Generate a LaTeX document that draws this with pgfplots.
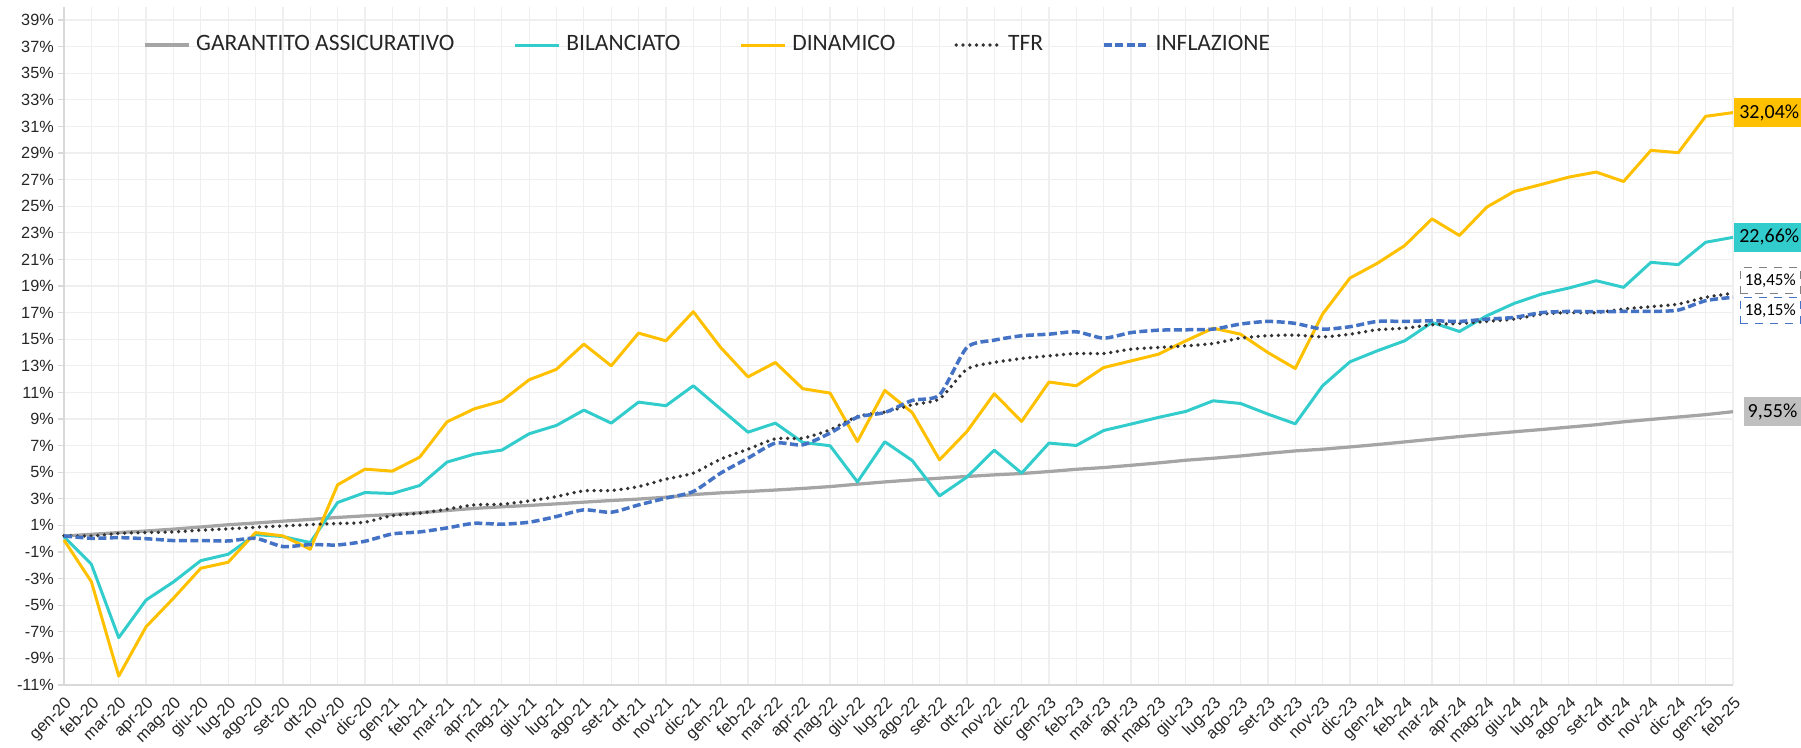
\documentclass[border=0pt]{standalone}
\usepackage{fontspec}
\setmainfont{Liberation Sans}
\newfontfamily\carlito{Carlito}
\usepackage{pgfplots}
\usepackage{pgfplotstable}
\pgfplotsset{compat=1.18}
\definecolor{cgar}{HTML}{A5A5A5}
\definecolor{cbil}{HTML}{33CCCC}
\definecolor{cdin}{HTML}{FFC000}
\definecolor{ctfr}{HTML}{333333}
\definecolor{cinf}{HTML}{4472C4}
\definecolor{cgrid}{HTML}{EFEFEF}
\definecolor{caxis}{HTML}{D9D9D9}
\definecolor{cbox}{HTML}{BFBFBF}
\definecolor{ctxt}{HTML}{262626}

\pgfplotstableread{
x gar bil din tfr inf
0 0.20 0.15 -0.10 0.23 0.21
1 0.33 -1.92 -3.23 0.20 0.03
2 0.46 -7.44 -10.33 0.40 0.08
3 0.58 -4.61 -6.62 0.46 0.00
4 0.72 -3.25 -4.48 0.51 -0.14
5 0.88 -1.65 -2.22 0.64 -0.14
6 1.05 -1.17 -1.77 0.74 -0.17
7 1.18 0.31 0.46 0.86 0.03
8 1.32 0.16 0.21 0.96 -0.59
9 1.45 -0.29 -0.79 1.06 -0.44
10 1.60 2.72 4.05 1.14 -0.47
11 1.72 3.47 5.23 1.24 -0.19
12 1.82 3.40 5.08 1.74 0.36
13 1.95 4.00 6.13 1.92 0.51
14 2.12 5.76 8.79 2.22 0.81
15 2.28 6.36 9.77 2.54 1.16
16 2.40 6.66 10.35 2.59 1.09
17 2.50 7.89 11.95 2.84 1.24
18 2.62 8.52 12.74 3.17 1.67
19 2.75 9.67 14.63 3.60 2.17
20 2.87 8.69 13.00 3.62 1.99
21 2.98 10.27 15.46 3.92 2.54
22 3.12 10.00 14.88 4.48 3.05
23 3.32 11.50 17.07 4.93 3.55
24 3.45 9.75 14.38 5.98 4.93
25 3.55 8.01 12.17 6.73 6.06
26 3.66 8.69 13.25 7.51 7.19
27 3.78 7.24 11.28 7.56 7.06
28 3.92 6.99 10.95 8.19 7.94
29 4.10 4.27 7.31 9.19 9.14
30 4.27 7.29 11.15 9.52 9.49
31 4.42 5.88 9.49 10.07 10.40
32 4.55 3.22 5.93 10.52 10.82
33 4.68 4.63 8.06 12.75 14.38
34 4.80 6.66 10.90 13.25 14.93
35 4.90 4.93 8.82 13.55 15.26
36 5.05 7.19 11.78 13.75 15.38
37 5.22 7.01 11.50 13.93 15.56
38 5.35 8.14 12.87 13.93 15.08
39 5.52 8.62 13.37 14.25 15.50
40 5.70 9.12 13.87 14.38 15.68
41 5.90 9.57 14.88 14.50 15.71
42 6.05 10.37 15.83 14.68 15.76
43 6.22 10.17 15.38 15.08 16.14
44 6.42 9.37 14.00 15.26 16.34
45 6.60 8.64 12.80 15.31 16.19
46 6.73 11.50 16.89 15.18 15.76
47 6.90 13.30 19.60 15.38 15.94
48 7.08 14.13 20.71 15.71 16.34
49 7.28 14.88 22.04 15.83 16.34
50 7.48 16.26 24.05 16.09 16.39
51 7.68 15.58 22.80 16.19 16.34
52 7.86 16.76 24.93 16.34 16.51
53 8.04 17.69 26.11 16.51 16.64
54 8.21 18.39 26.64 16.89 17.00
55 8.39 18.85 27.19 17.00 17.09
56 8.57 19.40 27.57 17.00 17.07
57 8.79 18.90 26.86 17.27 17.09
58 8.97 20.78 29.20 17.45 17.09
59 9.15 20.61 29.03 17.64 17.19
60 9.33 22.29 31.76 18.15 17.90
61 9.55 22.66 32.04 18.45 18.15
}\datatable

\begin{document}
\begin{tikzpicture}
\begin{axis}[
  scale only axis,
  width=667.6pt, height=271.3pt,
  xmin=0, xmax=61, ymin=-11, ymax=40,
  clip=false,
  axis x line*=bottom, axis y line*=left,
  axis line style={draw=caxis, line width=0.5pt},
  xtick={0,...,61},
  xticklabels={gen-20,feb-20,mar-20,apr-20,mag-20,giu-20,lug-20,ago-20,set-20,ott-20,nov-20,dic-20,
    gen-21,feb-21,mar-21,apr-21,mag-21,giu-21,lug-21,ago-21,set-21,ott-21,nov-21,dic-21,
    gen-22,feb-22,mar-22,apr-22,mag-22,giu-22,lug-22,ago-22,set-22,ott-22,nov-22,dic-22,
    gen-23,feb-23,mar-23,apr-23,mag-23,giu-23,lug-23,ago-23,set-23,ott-23,nov-23,dic-23,
    gen-24,feb-24,mar-24,apr-24,mag-24,giu-24,lug-24,ago-24,set-24,ott-24,nov-24,dic-24,
    gen-25,feb-25},
  ytick={-11,-9,...,39},
  yticklabels={-11\%,-9\%,-7\%,-5\%,-3\%,-1\%,1\%,3\%,5\%,7\%,9\%,11\%,13\%,15\%,17\%,19\%,21\%,23\%,25\%,27\%,29\%,31\%,33\%,35\%,37\%,39\%},
  xmajorgrids, ymajorgrids,
  grid style={draw=cgrid, line width=0.5pt},
  tick align=outside,
  major tick length=2.4pt,
  xtick style={draw=none},
  ytick style={draw=caxis, line width=0.5pt},
  yticklabel style={font=\fontsize{6.5}{7.5}\selectfont, text=ctxt, anchor=east, inner sep=1.5pt},
  xticklabel style={font=\fontsize{6.6}{8}\selectfont, text=ctxt, rotate=45, anchor=north east, inner sep=1.2pt},
  legend columns=5,
  legend style={draw=none, fill=none, inner sep=0pt, outer sep=0pt,
    at={(axis cs:2.887,37.12)}, anchor=west,
    font=\carlito\fontsize{9.4}{11}\selectfont, text=ctxt,
    nodes={inner sep=0pt},
    /tikz/every odd column/.append style={column sep=2.4pt},
    /tikz/every even column/.append style={column sep=23.6pt}},
  legend image code/.code={\draw[#1] (0pt,0pt) -- (17.6pt,0pt);},
]
\addplot[cgar, line width=1.3pt] table[x=x, y=gar] {\datatable};
\addlegendentry{GARANTITO ASSICURATIVO}
\addplot[cbil, line width=1.2pt, line join=round] table[x=x, y=bil] {\datatable};
\addlegendentry{BILANCIATO}
\addplot[cdin, line width=1.2pt, line join=round] table[x=x, y=din] {\datatable};
\addlegendentry{DINAMICO}
\addplot[ctfr, line width=1.5pt, line cap=round, dash pattern=on 0pt off 2.7pt, smooth, tension=0.4] table[x=x, y=tfr] {\datatable};
\addlegendentry{TFR}
\addplot[cinf, line width=1.4pt, dash pattern=on 3.2pt off 1.4pt, smooth, tension=0.4] table[x=x, y=inf] {\datatable};
\addlegendentry{INFLAZIONE}

\node[fill=cdin, anchor=west, inner sep=0pt, minimum width=27.6pt, minimum height=11.6pt,
  font=\carlito\fontsize{8}{9}\selectfont, text=black] at (axis cs:61,32.04) {\hspace*{1pt}32,04\%};
\node[fill=cbil, anchor=west, inner sep=0pt, minimum width=27.6pt, minimum height=11.6pt,
  font=\carlito\fontsize{8}{9}\selectfont, text=black] at (axis cs:61,22.66) {\hspace*{1pt}22,66\%};
\node[draw=gray, dashed, line width=0.45pt, fill=white, anchor=west, inner sep=0pt, minimum width=24.2pt, minimum height=10.2pt,
  font=\carlito\fontsize{6.8}{8}\selectfont, text=black] at ([xshift=2.6pt]axis cs:61,19.42) {18,45\%};
\node[draw=cinf, dashed, line width=0.45pt, fill=white, anchor=west, inner sep=0pt, minimum width=24.2pt, minimum height=10.2pt,
  font=\carlito\fontsize{6.8}{8}\selectfont, text=black] at ([xshift=2.6pt]axis cs:61,17.17) {18,15\%};
\node[fill=cbox, anchor=west, inner sep=0pt, minimum width=23.2pt, minimum height=11.6pt,
  font=\carlito\fontsize{8}{9}\selectfont, text=black] at ([xshift=4pt]axis cs:61,9.55) {9,55\%};
\end{axis}
\pgfresetboundingbox
\path[use as bounding box] ([xshift=-25.6pt,yshift=-25.2pt]current axis.south west) rectangle ([xshift=27.2pt,yshift=2.7pt]current axis.north east);
\end{tikzpicture}
\end{document}
